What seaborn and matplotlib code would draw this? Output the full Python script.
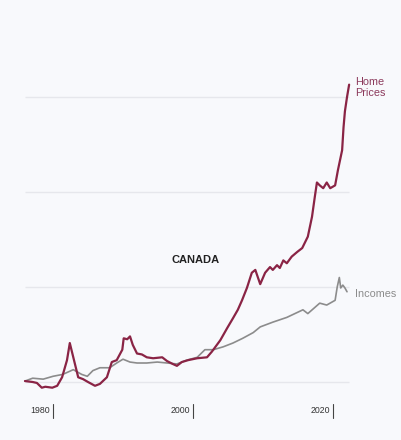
import pandas as pd
import seaborn as sns
import matplotlib.pyplot as plt

# data (% change since 1976)
price_years = [1976.0, 1977.1, 1977.7, 1978.4, 1978.9, 1979.9, 1980.6, 1981.3, 1982.0, 1982.4,
               1982.9, 1983.6, 1984.3, 1985.0, 1986.0, 1986.7, 1987.7, 1988.4, 1989.1, 1989.9,
               1990.1, 1990.6, 1991.0, 1991.4, 1992.0, 1992.7, 1993.4, 1994.3, 1995.6, 1996.3,
               1997.1, 1997.7, 1998.4, 1999.3, 2000.6, 2002.0, 2002.7, 2003.9, 2004.9, 2005.7,
               2006.4, 2007.0, 2007.7, 2008.4, 2008.9, 2009.6, 2010.3, 2011.0, 2011.4, 2012.0,
               2012.4, 2012.9, 2013.4, 2014.1, 2014.9, 2015.6, 2016.0, 2016.4, 2017.0, 2017.4,
               2017.7, 2018.1, 2018.6, 2019.1, 2019.6, 2020.3, 2020.7, 2021.3, 2021.5, 2021.7,
               2021.9, 2022.0, 2022.3]
price_values = [1, 0, -1, -6, -5, -6, -4, 5, 23, 41,
                26, 5, 3, 0, -4, -2, 5, 21, 23, 34,
                46, 45, 48, 39, 30, 29, 26, 25, 26, 22,
                19, 17, 21, 23, 25, 26, 32, 44, 57, 67,
                76, 86, 99, 115, 118, 103, 115, 121, 118, 123,
                120, 128, 125, 132, 137, 141, 147, 153, 174, 195,
                210, 207, 204, 210, 204, 207, 223, 244, 268, 285,
                295, 300, 313]

income_years = [1976.0, 1977.1, 1978.6, 1980.0, 1981.4, 1982.9, 1984.1, 1984.9, 1985.7, 1986.7,
                1988.1, 1989.1, 1990.0, 1991.0, 1992.0, 1993.4, 1994.9, 1996.3, 1997.7, 1999.1,
                2000.6, 2001.7, 2002.9, 2004.3, 2005.7, 2007.1, 2008.6, 2009.6, 2011.4, 2013.4,
                2015.7, 2016.4, 2018.1, 2019.1, 2020.3, 2020.6, 2020.9, 2021.1, 2021.4, 2021.7,
                2022.0]
income_values = [1, 4, 3, 6, 8, 13, 8, 6, 12, 15,
                 15, 20, 24, 21, 20, 20, 21, 20, 19, 23,
                 26, 34, 34, 37, 41, 46, 52, 58, 63, 68,
                 76, 72, 83, 81, 86, 100, 110, 99, 102, 99,
                 95]

grid_values = [0, 100, 200, 300]
tick_years = [1980, 2000, 2020]

price_color = "#8a2445"
price_label_color = "#8c3a5c"
income_color = "#8c8c8c"
bg = "#f8f9fc"

sns.set_style("white")
plt.rcParams['font.family'] = ['Liberation Sans', 'DejaVu Sans']

fig = plt.figure(figsize=(4.01, 4.40), dpi=100, facecolor=bg)
ax = fig.add_axes([0, 0, 1, 1])
ax.set_facecolor(bg)
ax.set_xlim(1972.43, 2029.71)
ax.set_ylim(-61.05, 402.1)

# gridlines
ax.hlines(grid_values, 1976.0, 2022.3, color="#e6e7ec", lw=1.0, zorder=1)

# series
prices = pd.DataFrame({"year": price_years, "value": price_values})
incomes = pd.DataFrame({"year": income_years, "value": income_values})
sns.lineplot(data=incomes, x="year", y="value", color=income_color, lw=1.2,
             estimator=None, ax=ax, zorder=3)
sns.lineplot(data=prices, x="year", y="value", color=price_color, lw=1.6,
             estimator=None, ax=ax, zorder=4)

# x ticks: label to the left of a small vertical tick
for yr in tick_years:
    ax.plot([yr, yr], [-23, -38], color="#444444", lw=0.8)
    ax.text(yr - 0.4, -30.5, str(yr), ha="right", va="center", fontsize=6.3, color="#333333")

# labels
ax.text(2023.2, 310, "Home\nPrices", ha="left", va="center", fontsize=7.8,
        color=price_label_color, linespacing=1.1)
ax.text(2023.2, 93, "Incomes", ha="left", va="center", fontsize=7.8, color=income_color)
ax.text(2000.3, 128, "CANADA", ha="center", va="center", fontsize=8,
        fontweight="bold", color="#222222")

ax.axis("off")
fig.savefig("out.png", dpi=100, facecolor=bg)
